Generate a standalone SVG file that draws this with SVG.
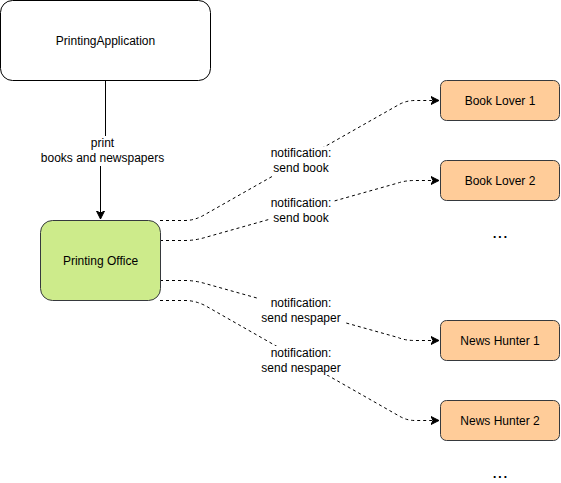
<svg xmlns="http://www.w3.org/2000/svg" width="561" height="483" viewBox="0 0 561 483">
<defs>
<style>
text{font-family:"Liberation Sans",Arial,sans-serif;font-size:12px;fill:#000;text-anchor:middle}
.node{stroke:#36393d;stroke-width:1}
.app{fill:#fff;stroke:#000}
.office{fill:#cdeb8b}
.sub{fill:#ffcc99}
.edge{fill:none;stroke:#000;stroke-width:1}
.dash{stroke-dasharray:3 3}
.lbl{fill:#fff;stroke:none}
.dots{font-size:19px}
</style>
<marker id="arr" markerUnits="userSpaceOnUse" markerWidth="10" markerHeight="10" refX="8" refY="4" orient="auto" viewBox="0 0 10 8">
<path d="M0,0 L8,4 L0,8 L2,4 z" fill="#000" stroke="#000" stroke-width="1"/>
</marker>
</defs>
<g id="connectors">
<path class="edge" d="M105.5,80.5 L105.5,150 L100.5,150 L100.5,219" marker-end="url(#arr)"/>
<rect class="lbl" x="37" y="136" width="131" height="30"/>
<text x="102.5" y="147">print</text>
<text x="102.5" y="162">books and newspapers</text>

<path class="edge dash" d="M160,220.5 L185,220.5 Q195,220.5 205,214.5 L400,104 Q407,100.5 415,100.5 L439,100.5" marker-end="url(#arr)"/>
<path class="edge dash" d="M160,240.5 L185,240.5 Q195,240.5 205,237.5 L398,183 Q405,180.5 415,180.5 L439,180.5" marker-end="url(#arr)"/>
<path class="edge dash" d="M160,280.5 L185,280.5 Q195,280.5 205,283.5 L398,337.5 Q405,340.5 415,340.5 L439,340.5" marker-end="url(#arr)"/>
<path class="edge dash" d="M160,300.5 L185,300.5 Q195,300.5 205,305.5 L400,416.5 Q407,420.5 415,420.5 L439,420.5" marker-end="url(#arr)"/>

<rect class="lbl" x="270" y="147" width="62" height="29"/>
<text x="301" y="157">notification:</text>
<text x="301" y="172">send book</text>
<rect class="lbl" x="270" y="197" width="62" height="29"/>
<text x="301" y="207">notification:</text>
<text x="301" y="222">send book</text>
<rect class="lbl" x="258" y="296" width="86" height="29"/>
<text x="301" y="307">notification:</text>
<text x="301" y="322">send nespaper</text>
<rect class="lbl" x="258" y="346" width="86" height="29"/>
<text x="301" y="357">notification:</text>
<text x="301" y="372">send nespaper</text>
</g>
<g id="printing-application">
<rect class="app" x="0.5" y="0.5" width="210" height="80" rx="12" ry="12"/>
<text x="105.5" y="45">PrintingApplication</text>
</g>
<g id="printing-office">
<rect class="node office" x="40.5" y="220.5" width="120" height="80" rx="12" ry="12"/>
<text x="100.5" y="265">Printing Office</text>
</g>
<g id="book-lover-1">
<rect class="node sub" x="440.5" y="80.5" width="119" height="40" rx="6" ry="6"/>
<text x="500" y="105">Book Lover 1</text>
</g>
<g id="book-lover-2">
<rect class="node sub" x="440.5" y="160.5" width="119" height="40" rx="6" ry="6"/>
<text x="500" y="185">Book Lover 2</text>
</g>
<g id="news-hunter-1">
<rect class="node sub" x="440.5" y="320.5" width="119" height="40" rx="6" ry="6"/>
<text x="500" y="345">News Hunter 1</text>
</g>
<g id="news-hunter-2">
<rect class="node sub" x="440.5" y="400.5" width="119" height="40" rx="6" ry="6"/>
<text x="500" y="425">News Hunter 2</text>
</g>
<text class="dots" x="500" y="238">...</text>
<text class="dots" x="500" y="478">...</text>
</svg>
